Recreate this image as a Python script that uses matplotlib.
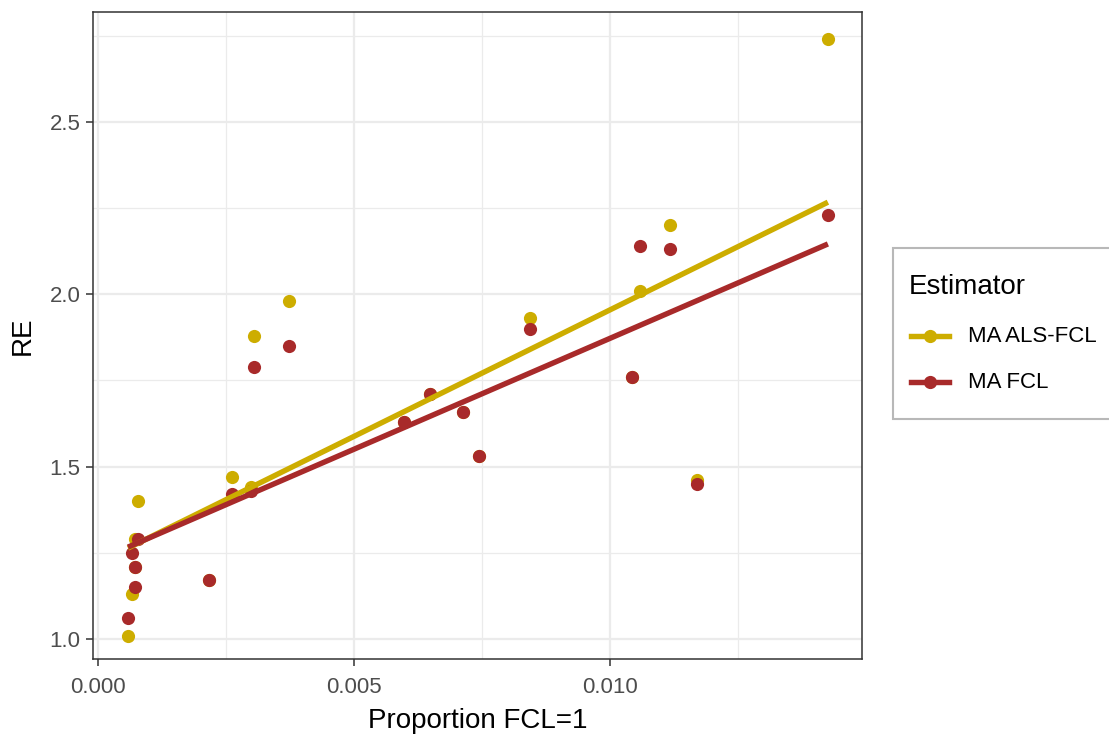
import numpy as np
import matplotlib
matplotlib.use("Agg")
import matplotlib.pyplot as plt
from matplotlib.lines import Line2D
from matplotlib.patches import Rectangle

plt.rcParams['font.family'] = ['Liberation Sans', 'DejaVu Sans']

# datos
prop_fcl = [0.00059, 0.00067, 0.00072, 0.00072, 0.00079, 0.00217, 0.00262, 0.00299,
            0.00305, 0.00374, 0.00598, 0.00649, 0.00713, 0.00745, 0.00844, 0.01043,
            0.01059, 0.01118, 0.01170, 0.01426]
re_als_fcl = [1.01, 1.13, 1.29, 1.21, 1.40, 1.17, 1.47, 1.44, 1.88, 1.98,
              1.63, 1.71, 1.66, 1.53, 1.93, 1.76, 2.01, 2.20, 1.46, 2.74]
re_fcl = [1.06, 1.25, 1.21, 1.15, 1.29, 1.17, 1.42, 1.43, 1.79, 1.85,
          1.63, 1.71, 1.66, 1.53, 1.90, 1.76, 2.14, 2.13, 1.45, 2.23]

series = ['MA ALS-FCL', 'MA FCL']
colors = ['#CDAD00', '#A82A2A']
x_ticks = [0.000, 0.005, 0.010]
x_ticklabels = ['0.000', '0.005', '0.010']
y_ticks = [1.0, 1.5, 2.0, 2.5]
y_ticklabels = ['1.0', '1.5', '2.0', '2.5']

W, H = 1109, 736
fig = plt.figure(figsize=(W / 100, H / 100), dpi=100)
ax = fig.add_axes([93 / W, 1 - 659 / H, (862 - 93) / W, (659 - 12) / H])

x = np.array(prop_fcl)
for ys, col in zip([re_als_fcl, re_fcl], colors):
    ys = np.array(ys)
    ax.scatter(x, ys, s=90, color=col, linewidths=0, zorder=3)
    # recta de regresion (lm)
    b, a = np.polyfit(x, ys, 1)
    xl = np.array([x.min(), x.max()])
    ax.plot(xl, a + b * xl, color=col, lw=3.9, solid_capstyle='butt', zorder=4)

ax.set_xlim(-0.000094, 0.014926)
ax.set_ylim(0.942, 2.819)
ax.set_xticks(x_ticks)
ax.set_xticklabels(x_ticklabels)
ax.set_yticks(y_ticks)
ax.set_yticklabels(y_ticklabels)
ax.set_xticks([0.0025, 0.0075, 0.0125], minor=True)
ax.set_yticks([1.25, 1.75, 2.25, 2.75], minor=True)

ax.grid(which='major', color='#EBEBEB', lw=1.6, zorder=0)
ax.grid(which='minor', color='#EBEBEB', lw=0.9, zorder=0)
ax.set_axisbelow(True)
for sp in ax.spines.values():
    sp.set_color('#333333')
    sp.set_linewidth(1.1)
ax.tick_params(which='major', length=5, width=1.1, color='#333333',
               labelsize=16, labelcolor='#4D4D4D', pad=4)
ax.tick_params(axis='x', which='major', pad=8)
ax.tick_params(which='minor', length=0)

ax.set_xlabel('Proportion FCL=1', fontsize=20, labelpad=7)
ax.set_ylabel('RE', fontsize=20, labelpad=10)

# leyenda
fig.patches.append(Rectangle((893 / W, 1 - 419 / H), (1120 - 893) / W, (419 - 248) / H,
                             transform=fig.transFigure, facecolor='white',
                             edgecolor='#B8B8B8', lw=1.5, clip_on=False))
fig.text(909 / W, 1 - 287 / H, 'Estimator', fontsize=20, va='center', ha='left')
for i, (lab, col) in enumerate(zip(series, colors)):
    yk = 1 - (336 + 46 * i) / H
    fig.add_artist(Line2D([911 / W, 949 / W], [yk, yk], transform=fig.transFigure,
                          color=col, lw=3.9))
    fig.add_artist(Line2D([930 / W], [yk], transform=fig.transFigure, marker='o',
                          markersize=9.5, color=col, markeredgewidth=0))
    fig.text(968 / W, yk, lab, fontsize=16, va='center', ha='left')

fig.savefig('out.png', dpi=100)
